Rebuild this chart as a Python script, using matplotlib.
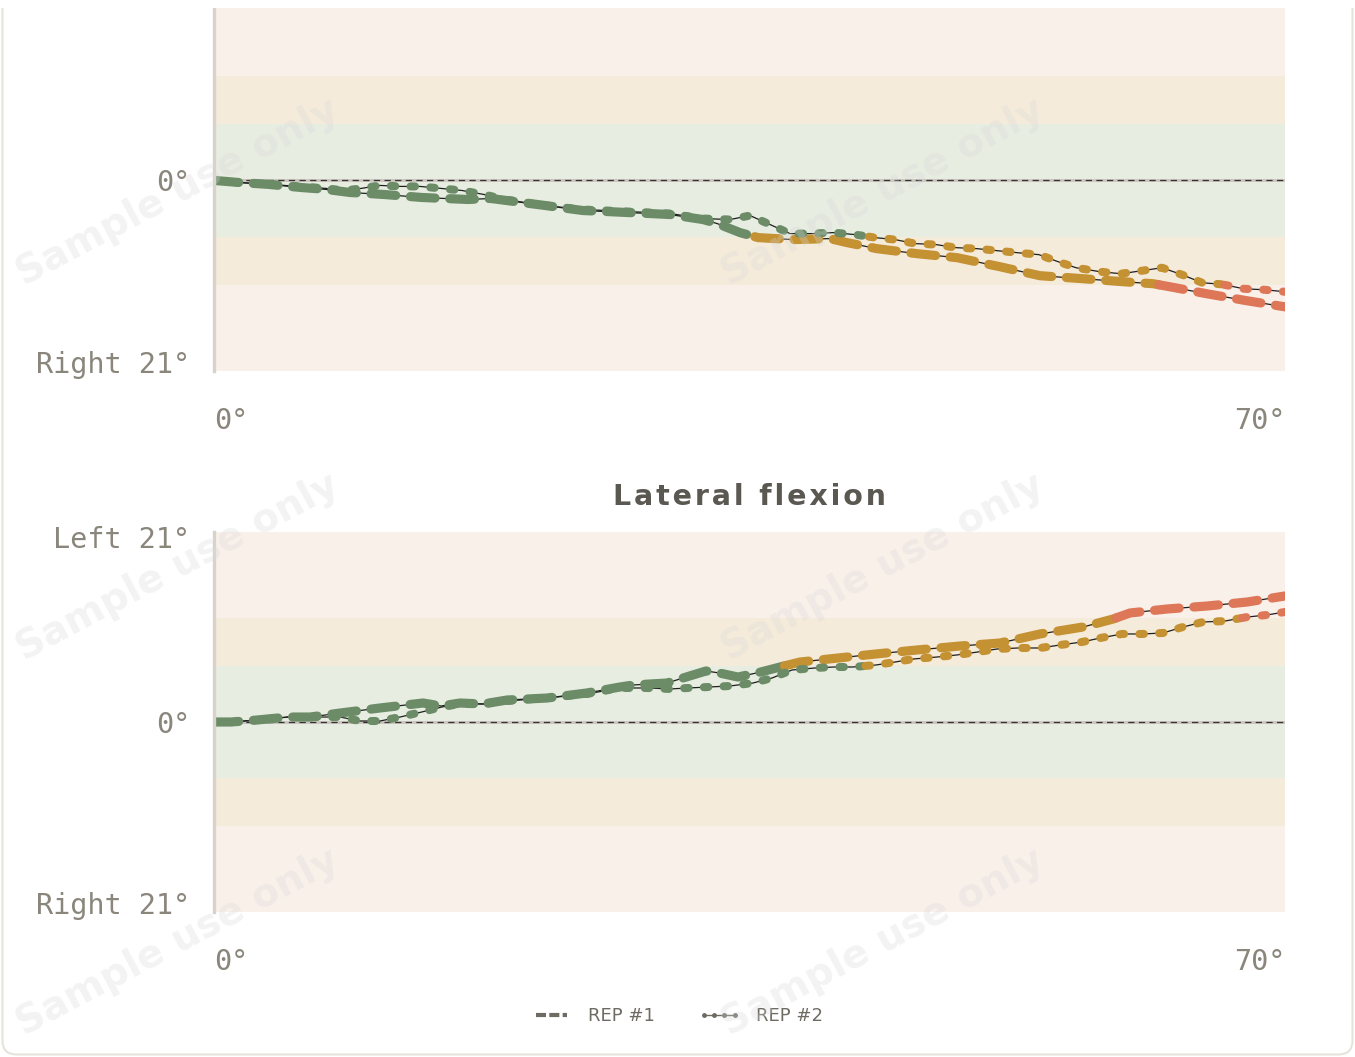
import matplotlib
matplotlib.use("Agg")
import matplotlib.pyplot as plt
from matplotlib.lines import Line2D
from matplotlib.patches import FancyBboxPatch, Rectangle
from matplotlib.transforms import IdentityTransform
import numpy as np

# ---- data (degrees, x = 0..70) ----
top_rep1_x = [0, 1.57, 3.59, 5.62, 7.32, 8.89, 11.11, 13.59, 16.60, 18.10, 21.63, 24.12, 25.69, 27.06,
              28.50, 29.80, 31.96, 32.88, 34.38, 35.56, 37.84, 40.26, 41.37, 43.33, 45.95, 48.56, 51.37,
              53.99, 56.80, 59.41, 61.37, 62.48, 64.90, 67.52, 70.0]
top_rep1_y = [0, -0.22, -0.44, -0.77, -0.99, -1.33, -1.55, -1.88, -2.10, -1.99, -2.76, -3.32, -3.43, -3.54,
              -3.65, -3.76, -4.31, -4.75, -5.75, -6.30, -6.52, -6.41, -6.85, -7.52, -8.07, -8.51, -9.51,
              -10.50, -10.83, -11.16, -11.38, -11.72, -12.49, -13.26, -13.93]

top_rep2_x = [0, 1.57, 3.59, 5.62, 7.32, 8.56, 9.61, 10.85, 12.22, 13.46, 14.84, 16.21, 17.65, 19.02,
              21.63, 24.12, 25.69, 27.06, 28.50, 29.80, 31.96, 33.73, 35.03, 36.34, 37.65, 39.15, 40.46,
              41.90, 43.20, 44.51, 45.82, 47.19, 48.50, 49.87, 51.18, 52.48, 53.92, 55.16, 56.34, 57.91,
              59.28, 60.65, 61.96, 63.27, 64.58, 65.88, 67.32, 68.69, 70.0]
top_rep2_y = [0, -0.22, -0.44, -0.66, -0.88, -1.11, -0.88, -0.55, -0.66, -0.66, -0.88, -1.11, -1.55, -2.10,
              -2.76, -3.21, -3.32, -3.43, -3.54, -3.65, -4.20, -4.31, -3.87, -4.86, -5.86, -5.86, -5.75,
              -5.97, -6.30, -6.52, -6.96, -7.07, -7.41, -7.52, -7.74, -7.96, -8.18, -8.95, -9.62, -10.06,
              -10.28, -9.95, -9.62, -10.39, -11.27, -11.45, -11.94, -12.05, -12.27]

bot_rep1_x = [0, 1.11, 2.81, 4.84, 6.27, 8.24, 10.85, 13.66, 14.84, 16.08, 17.58, 19.15, 21.76, 24.38,
              26.54, 27.39, 29.61, 30.65, 32.16, 33.01, 34.25, 35.75, 37.00, 38.30, 40.78, 43.27, 45.95,
              48.76, 51.37, 53.99, 56.80, 58.76, 59.87, 62.29, 64.90, 67.52, 70.0]
bot_rep1_y = [0, 0, 0.22, 0.55, 0.55, 0.99, 1.55, 2.10, 1.77, 2.10, 1.99, 2.43, 2.65, 3.21,
              3.87, 4.09, 4.31, 4.86, 5.64, 5.42, 4.97, 5.53, 6.08, 6.63, 7.07, 7.52, 7.96,
              8.40, 8.73, 9.73, 10.50, 11.38, 12.05, 12.49, 12.82, 13.26, 13.93]

bot_rep2_x = [0, 1.11, 2.81, 4.84, 6.27, 8.24, 9.54, 10.85, 12.16, 13.59, 14.90, 16.08, 17.58, 19.15,
              21.76, 24.38, 26.54, 28.30, 29.80, 30.98, 32.35, 33.73, 35.23, 36.47, 37.78, 39.28, 40.52,
              41.76, 43.27, 44.51, 45.69, 47.25, 48.56, 49.93, 51.18, 52.55, 53.99, 55.29, 56.73, 57.91,
              59.35, 60.72, 62.03, 63.33, 64.64, 66.08, 67.52, 68.82, 70.0]
bot_rep2_y = [0, 0, 0.22, 0.55, 0.55, 0.55, 0.11, 0.11, 0.55, 1.11, 1.66, 1.99, 1.99, 2.32,
              2.65, 3.10, 3.76, 3.76, 3.65, 3.76, 3.87, 3.98, 4.31, 4.86, 5.75, 5.97, 6.08,
              6.08, 6.30, 6.63, 6.96, 7.18, 7.41, 7.74, 8.07, 8.18, 8.18, 8.51, 8.84, 9.28,
              9.73, 9.73, 9.84, 10.50, 11.05, 11.16, 11.60, 11.83, 12.16]

green_lim = 6.2
yellow_lim = 11.5

C_GREEN = "#6c8c68"
C_GOLD = "#c49133"
C_RED = "#de7658"
BAND_GREEN = "#e8ede2"
BAND_YELLOW = "#f5ebda"
BAND_PINK = "#f9f0ea"
TXT = "#8a867c"


def zone(v):
    a = abs(v)
    if a < green_lim:
        return 0
    if a < yellow_lim:
        return 1
    return 2


def split_by_zone(xs, ys):
    # break the polyline where it crosses a band edge
    pieces = []
    cur_x, cur_y = [xs[0]], [ys[0]]
    cur_z = zone(ys[0])
    for i in range(1, len(xs)):
        x0, y0, x1, y1 = xs[i - 1], ys[i - 1], xs[i], ys[i]
        z1 = zone(y1)
        if z1 != cur_z:
            lim = green_lim if min(cur_z, z1) == 0 else yellow_lim
            lim = lim if y1 + y0 > 0 else -lim
            t = (lim - y0) / (y1 - y0)
            xc = x0 + t * (x1 - x0)
            cur_x.append(xc); cur_y.append(lim)
            pieces.append((cur_x, cur_y, cur_z))
            cur_x, cur_y, cur_z = [xc], [lim], z1
        cur_x.append(x1); cur_y.append(y1)
    pieces.append((cur_x, cur_y, cur_z))
    return pieces


colors = [C_GREEN, C_GOLD, C_RED]

fig = plt.figure(figsize=(13.55, 10.57), dpi=100)
fig.patch.set_facecolor("white")

# card outline
card = FancyBboxPatch((2.5, 2.5), 1350, 1100, boxstyle="round,pad=0,rounding_size=14",
                      transform=IdentityTransform(), facecolor="white", edgecolor="#e6e3dc",
                      linewidth=1.5, zorder=0)
fig.add_artist(card)
fig.add_artist(Rectangle((0, 1049), 1355, 20, transform=IdentityTransform(),
                         facecolor="white", edgecolor="none", zorder=0.5))

ax_top = fig.add_axes([214 / 1355, 1 - 371 / 1057, 1071 / 1355, 363 / 1057])
ax_bot = fig.add_axes([214 / 1355, 1 - 912 / 1057, 1071 / 1355, 380 / 1057])


def draw_panel(ax, r1x, r1y, r2x, r2y, ylim, yticks, ylabels):
    ax.set_facecolor("none")
    ax.set_xlim(0, 70)
    ax.set_ylim(*ylim)
    ax.axhspan(-30, 30, color=BAND_PINK, lw=0, zorder=0)
    ax.axhspan(-yellow_lim, yellow_lim, color=BAND_YELLOW, lw=0, zorder=0)
    ax.axhspan(-green_lim, green_lim, color=BAND_GREEN, lw=0, zorder=0)
    ax.axhline(0, color="#cbc6be", lw=2.2, zorder=1)
    ax.axhline(0, color="#333333", lw=0.9, dashes=(5, 3.5), zorder=1.2)

    for xs, ys, lw, dash in [(r1x, r1y, 6.6, (2.7, 1.6)), (r2x, r2y, 5.8, (0.55, 1.9))]:
        ax.plot(xs, ys, color="#1e1e1e", lw=0.9, zorder=2)
        for px, py, z in split_by_zone(xs, ys):
            ln, = ax.plot(px, py, color=colors[z], lw=lw, solid_capstyle="round",
                          dash_capstyle="round", zorder=3)
            ln.set_dashes(dash)

    for s in ["top", "right", "bottom"]:
        ax.spines[s].set_visible(False)
    ax.spines["left"].set_color("#d8d3ca")
    ax.spines["left"].set_linewidth(2.4)
    ax.spines["left"].set_zorder(4)

    ax.set_yticks(yticks)
    ax.set_yticklabels(ylabels)
    ax.set_xticks([0, 70])
    ax.set_xticklabels(["0°", "70°"])
    ax.tick_params(axis="both", length=0, labelsize=20.5, labelcolor=TXT)
    ax.tick_params(axis="y", pad=17)
    ax.tick_params(axis="x", pad=26)
    for lab in ax.get_yticklabels() + ax.get_xticklabels():
        lab.set_fontfamily("DejaVu Sans Mono")
    xl = ax.get_xticklabels()
    xl[0].set_ha("left")
    xl[1].set_ha("right")


# label positions sit a little inside the ±21° edges, as in the source
draw_panel(ax_top, top_rep1_x, top_rep1_y, top_rep2_x, top_rep2_y,
           (-21, 19.0), [-20, 0], ["Right 21°", "0°"])

draw_panel(ax_bot, bot_rep1_x, bot_rep1_y, bot_rep2_x, bot_rep2_y,
           (-21, 21), [-20, 0, 20.4], ["Right 21°", "0°", "Left 21°"])

title = "\u200a".join("Lateral flexion")
ax_bot.text(0.5, 1 + 35 / 380, title, transform=ax_bot.transAxes, ha="center",
            va="center", fontsize=20.5, fontweight="bold", color="#5b5852", family="DejaVu Sans")

# legend
h1 = Line2D([], [], color="#6e6b63", lw=3, dashes=(2.4, 0.8))
h2 = Line2D([], [], color="#6e6b63", lw=1, marker="o", markersize=2.5)
leg = fig.legend([h1, h2], ["REP #1", "REP #2"], loc="center", bbox_to_anchor=(677 / 1355, 1 - 1016 / 1057),
                 ncol=2, frameon=False, fontsize=13, handlelength=2.3, numpoints=4,
                 columnspacing=2.4, handletextpad=0.9)
for t in leg.get_texts():
    t.set_color("#6e6b63")

# watermarks
for cx in [178, 883]:
    for cy in [192, 567, 942]:
        fig.text(cx / 1355, 1 - cy / 1057, "Sample use only", rotation=28, ha="center", va="center",
                 fontsize=28, fontweight="bold", color="#d8d8d8", alpha=0.3, zorder=10)

fig.savefig("out.png", dpi=100)
